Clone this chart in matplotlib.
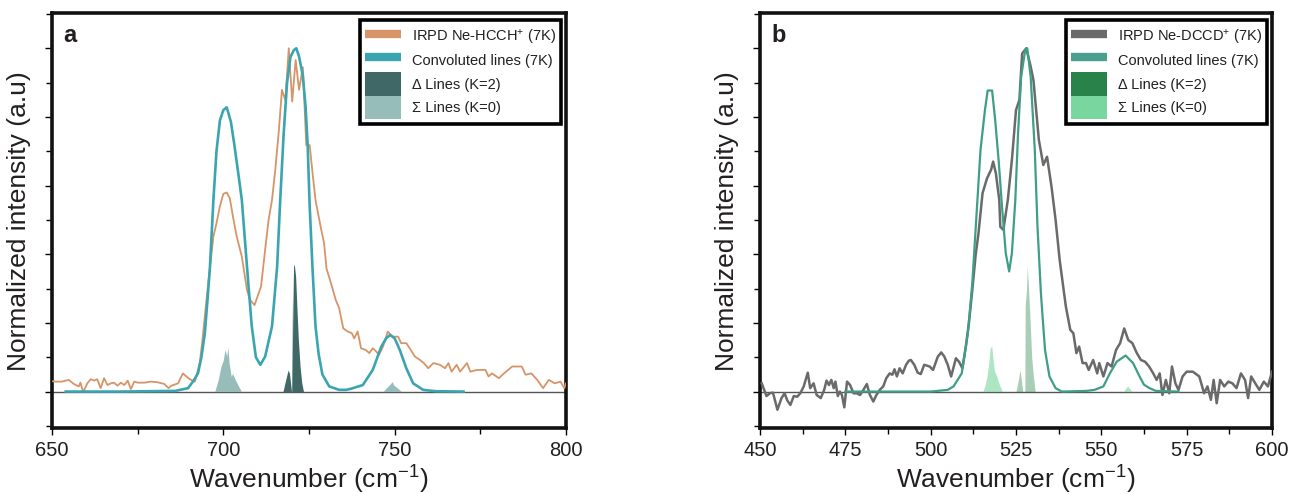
import matplotlib.pyplot as plt
from matplotlib.lines import Line2D
from matplotlib.patches import Patch
from matplotlib.ticker import MultipleLocator

plt.rcParams['font.family'] = ['Liberation Sans', 'DejaVu Sans']
plt.rcParams['mathtext.fontset'] = 'custom'
plt.rcParams['mathtext.rm'] = 'Liberation Sans'
plt.rcParams['mathtext.it'] = 'Liberation Sans:italic'
plt.rcParams['mathtext.bf'] = 'Liberation Sans:bold'

# ---- panel a : Ne-HCCH+ ----
hcch_exp_x = [650.3, 651.0, 652.9, 654.9, 656.4, 657.8, 658.3, 659.1, 660.3, 661.3, 662.3, 663.2,
              664.2, 665.2, 666.2, 667.2, 668.1, 669.1, 670.1, 671.1, 672.1, 673.0, 674.0, 675.0,
              677.0, 678.9, 680.9, 682.8, 684.0, 684.8, 686.8, 688.2, 689.2, 690.2, 691.7, 693.1,
              693.8, 694.7, 695.6, 697.1, 698.0, 699.0, 700.0, 701.0, 701.9, 702.8, 703.9, 705.4,
              706.9, 707.8, 709.1, 711.0, 712.2, 713.2, 714.2, 715.2, 716.2, 717.1, 718.1, 719.1,
              720.1, 721.1, 722.1, 723.2, 723.8, 724.2, 725.2, 726.0, 726.9, 728.4, 729.4, 730.1,
              731.4, 732.8, 733.8, 735.0, 736.3, 737.5, 738.2, 739.2, 740.2, 741.6, 742.6, 743.6,
              744.6, 745.4, 746.6, 748.0, 749.3, 751.0, 751.9, 753.4, 754.4, 755.9, 757.4, 758.5,
              759.8, 761.3, 763.2, 764.7, 765.7, 766.6, 768.1, 769.1, 771.1, 772.1, 774.0, 776.5,
              777.4, 778.4, 780.4, 781.9, 784.3, 787.1, 788.2, 789.9, 791.6, 793.3, 795.0, 796.7,
              798.4, 799.5, 800.0]
hcch_exp_y = [0.030, 0.029, 0.029, 0.034, 0.022, 0.015, 0.026, -0.002, 0.024, 0.036, 0.032, 0.036,
              0.010, 0.039, 0.019, 0.024, 0.026, 0.017, 0.026, 0.019, 0.032, 0.007, 0.029, 0.026,
              0.026, 0.029, 0.027, 0.022, 0.010, 0.017, 0.024, 0.053, 0.044, 0.036, 0.029, 0.083,
              0.141, 0.230, 0.316, 0.452, 0.490, 0.540, 0.576, 0.580, 0.563, 0.510, 0.452, 0.393,
              0.296, 0.267, 0.252, 0.306, 0.413, 0.500, 0.558, 0.650, 0.760, 0.879, 0.849, 1.000,
              0.845, 0.966, 0.879, 0.945, 0.811, 0.718, 0.718, 0.640, 0.558, 0.480, 0.432, 0.359,
              0.316, 0.267, 0.243, 0.184, 0.175, 0.170, 0.155, 0.175, 0.126, 0.121, 0.112, 0.126,
              0.117, 0.107, 0.131, 0.175, 0.160, 0.160, 0.141, 0.141, 0.126, 0.102, 0.092, 0.083,
              0.068, 0.083, 0.078, 0.068, 0.083, 0.058, 0.078, 0.058, 0.083, 0.058, 0.063, 0.063,
              0.044, 0.053, 0.039, 0.053, 0.073, 0.073, 0.049, 0.053, 0.034, 0.010, 0.034, 0.024,
              0.029, 0.010, 0.024]

hcch_conv_x = [654.0, 670.0, 686.0, 689.7, 691.2, 692.6, 693.6, 694.6, 695.4, 696.1, 697.1, 698.0,
               699.0, 700.0, 701.0, 702.2, 703.2, 704.3, 705.4, 706.9, 708.3, 709.5, 710.8, 712.2,
               714.2, 715.7, 716.6, 717.6, 718.6, 719.6, 720.6, 721.3, 722.1, 723.2, 724.0, 724.6,
               725.2, 726.0, 726.9, 727.8, 728.9, 730.9, 733.8, 735.8, 737.2, 740.7, 743.6, 746.1,
               747.5, 748.7, 750.0, 751.5, 753.4, 755.4, 758.3, 762.0, 770.1]
hcch_conv_y = [0.000, 0.000, 0.002, 0.010, 0.030, 0.053, 0.100, 0.170, 0.270, 0.364, 0.558, 0.700,
               0.790, 0.820, 0.828, 0.786, 0.720, 0.640, 0.558, 0.364, 0.190, 0.100, 0.078, 0.102,
               0.190, 0.364, 0.558, 0.750, 0.900, 0.975, 0.995, 1.000, 0.976, 0.920, 0.830, 0.720,
               0.540, 0.364, 0.190, 0.110, 0.050, 0.015, 0.005, 0.005, 0.008, 0.019, 0.063, 0.131,
               0.155, 0.165, 0.155, 0.121, 0.068, 0.024, 0.005, 0.001, 0.000]

hcch_delta_x = [717.4, 718.1, 718.9, 719.3, 719.9, 720.0, 720.3, 720.5, 720.7, 721.1, 721.5, 721.9,
                722.4, 722.9, 723.4]
hcch_delta_y = [0.000, 0.030, 0.063, 0.053, 0.000, 0.000, 0.250, 0.364, 0.372, 0.335, 0.238, 0.150,
                0.073, 0.024, 0.000]

hcch_sigma_x = [697.5, 698.5, 699.3, 700.0, 700.5, 701.0, 701.3, 701.7, 702.3, 702.7, 703.5, 704.5,
                705.3, 719.9, 720.1, 720.4, 746.6, 748.0, 748.7, 749.3, 749.7, 750.5, 752.0]
hcch_sigma_y = [0.000, 0.034, 0.073, 0.092, 0.123, 0.102, 0.131, 0.083, 0.044, 0.053, 0.034, 0.015,
                0.000, 0.000, 0.277, 0.000, 0.000, 0.015, 0.022, 0.029, 0.019, 0.013, 0.000]

# ---- panel b : Ne-DCCD+ ----
dccd_exp_x = [450.5, 451.9, 452.9, 453.8, 455.1, 456.3, 457.2, 458.0, 458.9, 459.9, 460.9, 461.8,
              462.8, 464.0, 464.7, 465.7, 466.6, 467.8, 468.8, 469.5, 470.2, 470.9, 471.6, 472.1,
              472.8, 473.4, 474.0, 474.7, 475.5, 476.4, 477.4, 478.4, 479.3, 480.3, 481.3, 482.2,
              483.2, 484.1, 485.1, 486.1, 487.0, 488.0, 488.8, 489.4, 490.1, 490.9, 491.8, 492.8,
              493.6, 494.2, 495.2, 496.2, 497.1, 498.1, 499.7, 500.7, 502.1, 503.1, 504.0, 505.0,
              506.0, 507.4, 508.3, 509.3, 510.3, 511.2, 512.2, 513.2, 514.0, 515.2, 516.5, 517.7,
              518.3, 519.1, 520.1, 520.4, 521.3, 522.6, 523.8, 525.0, 526.0, 526.8, 528.0, 529.3,
              530.1, 530.9, 531.7, 533.0, 534.1, 535.4, 536.6, 537.8, 538.7, 539.6, 540.9, 541.8,
              542.7, 543.5, 544.5, 545.5, 546.3, 547.6, 548.8, 549.4, 550.6, 551.8, 553.0, 554.3,
              555.5, 556.7, 557.9, 559.1, 560.4, 561.6, 562.8, 564.0, 565.2, 566.2, 567.1, 567.9,
              568.9, 569.9, 570.7, 571.7, 572.6, 573.8, 575.0, 576.8, 578.7, 580.1, 581.1, 582.1,
              582.9, 583.8, 584.8, 586.0, 587.2, 588.4, 589.6, 590.9, 592.1, 593.0, 593.9, 595.1,
              596.3, 597.6, 598.8, 600.0]
dccd_exp_y = [0.024, -0.013, -0.005, -0.003, -0.053, -0.019, -0.005, -0.026, -0.039, -0.013, -0.015, -0.005,
              0.015, 0.055, 0.010, 0.024, -0.010, -0.019, 0.005, 0.032, 0.019, 0.034, 0.010, 0.029,
              -0.013, 0.000, -0.010, -0.046, 0.029, 0.019, -0.005, -0.005, -0.010, 0.005, 0.022, -0.010,
              -0.029, -0.010, 0.005, 0.015, 0.039, 0.053, 0.049, 0.065, 0.044, 0.068, 0.053, 0.078,
              0.090, 0.092, 0.078, 0.055, 0.051, 0.078, 0.073, 0.063, 0.102, 0.114, 0.102, 0.078,
              0.044, 0.097, 0.087, 0.068, 0.131, 0.199, 0.296, 0.400, 0.460, 0.578, 0.621, 0.646,
              0.670, 0.636, 0.558, 0.480, 0.471, 0.558, 0.675, 0.820, 0.850, 0.985, 1.000, 0.947,
              0.908, 0.820, 0.733, 0.660, 0.684, 0.597, 0.500, 0.383, 0.316, 0.248, 0.180, 0.170,
              0.112, 0.131, 0.083, 0.083, 0.063, 0.092, 0.053, 0.083, 0.044, 0.083, 0.073, 0.121,
              0.141, 0.184, 0.150, 0.141, 0.112, 0.092, 0.087, 0.073, 0.053, 0.034, 0.053, -0.010,
              0.034, -0.005, 0.073, 0.024, 0.005, 0.044, 0.058, 0.058, 0.044, -0.005, 0.015, -0.024,
              0.034, -0.034, 0.034, 0.015, 0.029, 0.024, 0.010, 0.053, 0.034, -0.019, 0.044, 0.024,
              0.005, 0.029, 0.015, 0.058]

dccd_conv_x = [475.0, 500.0, 505.0, 506.7, 509.1, 510.9, 512.2, 513.4, 514.6, 515.9, 516.7, 518.0,
               518.9, 519.9, 520.9, 522.0, 523.0, 523.8, 524.8, 525.6, 526.5, 527.7, 528.3, 529.3,
               530.5, 531.3, 532.3, 533.5, 534.8, 536.6, 538.4, 545.7, 548.0, 550.6, 552.5, 554.5,
               557.1, 559.3, 561.2, 562.5, 564.1, 566.0, 572.6]
dccd_conv_y = [0.000, 0.000, 0.005, 0.015, 0.053, 0.170, 0.316, 0.510, 0.704, 0.820, 0.877, 0.877,
               0.791, 0.675, 0.539, 0.403, 0.350, 0.403, 0.558, 0.752, 0.917, 0.995, 1.000, 0.917,
               0.704, 0.480, 0.286, 0.121, 0.044, 0.010, 0.000, 0.002, 0.005, 0.015, 0.053, 0.087,
               0.105, 0.083, 0.044, 0.020, 0.010, 0.002, 0.000]

dccd_delta_x = [525.0, 525.6, 526.2, 526.6, 527.0, 527.6, 527.7, 528.1, 528.3, 528.7, 529.2, 529.6,
                530.1, 530.6]
dccd_delta_y = [0.000, 0.030, 0.063, 0.030, 0.000, 0.000, 0.250, 0.300, 0.364, 0.296, 0.190, 0.100,
                0.044, 0.000]

dccd_sigma_x = [515.3, 516.0, 516.5, 517.0, 517.4, 517.9, 518.2, 518.7, 519.4, 520.0, 521.0, 556.5,
                557.2, 557.7, 558.0, 558.6, 559.2]
dccd_sigma_y = [0.000, 0.020, 0.045, 0.080, 0.126, 0.133, 0.102, 0.060, 0.044, 0.024, 0.000, 0.000,
                0.010, 0.017, 0.012, 0.005, 0.000]

TEXT = '#231f20'


def style_axes(ax, xlim, major, minor, tag):
    ax.set_xlim(*xlim)
    ax.set_ylim(-0.107, 1.102)
    ax.xaxis.set_major_locator(MultipleLocator(major))
    ax.xaxis.set_minor_locator(MultipleLocator(minor))
    ax.yaxis.set_major_locator(MultipleLocator(0.2))
    ax.yaxis.set_minor_locator(MultipleLocator(0.1))
    ax.tick_params(which='both', direction='out', top=False, right=False, width=1.0,
                   colors='black', labelcolor=TEXT)
    ax.tick_params(which='major', length=5, labelsize=14.5, pad=4)
    ax.tick_params(which='minor', length=4)
    ax.tick_params(axis='y', which='both', labelleft=False)
    for s in ax.spines.values():
        s.set_linewidth(2.6)
        s.set_color('#111111')
    ax.set_xlabel('Wavenumber (cm$^{\\mathregular{-1}}$)', fontsize=19, color=TEXT, labelpad=3)
    ax.set_ylabel('Normalized intensity (a.u)', fontsize=19, color=TEXT, labelpad=10)
    ax.axhline(0, color='#555555', lw=1.0, zorder=1)
    ax.text(0.022, 0.975, tag, transform=ax.transAxes, fontsize=17, fontweight='bold',
            va='top', ha='left', color=TEXT)


def add_legend(ax, handles, labels):
    leg = ax.legend(handles, labels, loc='upper right', bbox_to_anchor=(0.99, 0.983),
                    borderaxespad=0, fontsize=10.5, handlelength=2.5, handleheight=2.1,
                    labelspacing=0, handletextpad=0.7, borderpad=0.35, fancybox=False,
                    framealpha=1, edgecolor='black', labelcolor=TEXT)
    leg.get_frame().set_linewidth(2.6)


fig = plt.figure(figsize=(12.91, 4.94), dpi=100)
ax_a = fig.add_axes([52 / 1291, 65.7 / 494, 514 / 1291, 415 / 494])
ax_b = fig.add_axes([760 / 1291, 65.7 / 494, 512 / 1291, 415 / 494])

# panel a
c_orange, c_teal, c_dark, c_light = '#d69468', '#3aa5b0', '#3f6866', '#97bdba'
style_axes(ax_a, (650, 800), 50, 25, 'a')
ax_a.fill_between(hcch_sigma_x, 0, hcch_sigma_y, color=c_light, lw=0, zorder=2)
ax_a.fill_between(hcch_delta_x, 0, hcch_delta_y, color=c_dark, lw=0, zorder=3)
ax_a.plot(hcch_exp_x, hcch_exp_y, color=c_orange, lw=1.3, zorder=4)
ax_a.plot(hcch_conv_x, hcch_conv_y, color=c_teal, lw=1.9, zorder=5)
add_legend(ax_a,
           [Line2D([0], [0], color=c_orange, lw=6, solid_capstyle='butt'),
            Line2D([0], [0], color=c_teal, lw=6, solid_capstyle='butt'),
            Patch(facecolor=c_dark, edgecolor='none'),
            Patch(facecolor=c_light, edgecolor='none')],
           ['IRPD Ne-HCCH$^{\\mathregular{+}}$ (7K)', 'Convoluted lines (7K)',
            '\u0394 Lines (K=2)', '\u03a3 Lines (K=0)'])

# panel b
c_grey, c_green, c_dgreen, c_lgreen = '#6a6a6a', '#3e9e86', '#2a824b', '#78d69e'
style_axes(ax_b, (450, 600), 25, 12.5, 'b')
ax_b.fill_between(dccd_sigma_x, 0, dccd_sigma_y, color=c_lgreen, alpha=0.6, lw=0, zorder=2)
ax_b.fill_between(dccd_delta_x, 0, dccd_delta_y, color=c_dgreen, alpha=0.4, lw=0, zorder=3)
ax_b.plot(dccd_exp_x, dccd_exp_y, color=c_grey, lw=1.8, zorder=4)
ax_b.plot(dccd_conv_x, dccd_conv_y, color=c_green, lw=1.6, zorder=5)
add_legend(ax_b,
           [Line2D([0], [0], color=c_grey, lw=6, solid_capstyle='butt'),
            Line2D([0], [0], color='#4aa08c', lw=6, solid_capstyle='butt'),
            Patch(facecolor=c_dgreen, edgecolor='none'),
            Patch(facecolor=c_lgreen, edgecolor='none')],
           ['IRPD Ne-DCCD$^{\\mathregular{+}}$ (7K)', 'Convoluted lines (7K)',
            '\u0394 Lines (K=2)', '\u03a3 Lines (K=0)'])

fig.savefig('out.png', dpi=100)
